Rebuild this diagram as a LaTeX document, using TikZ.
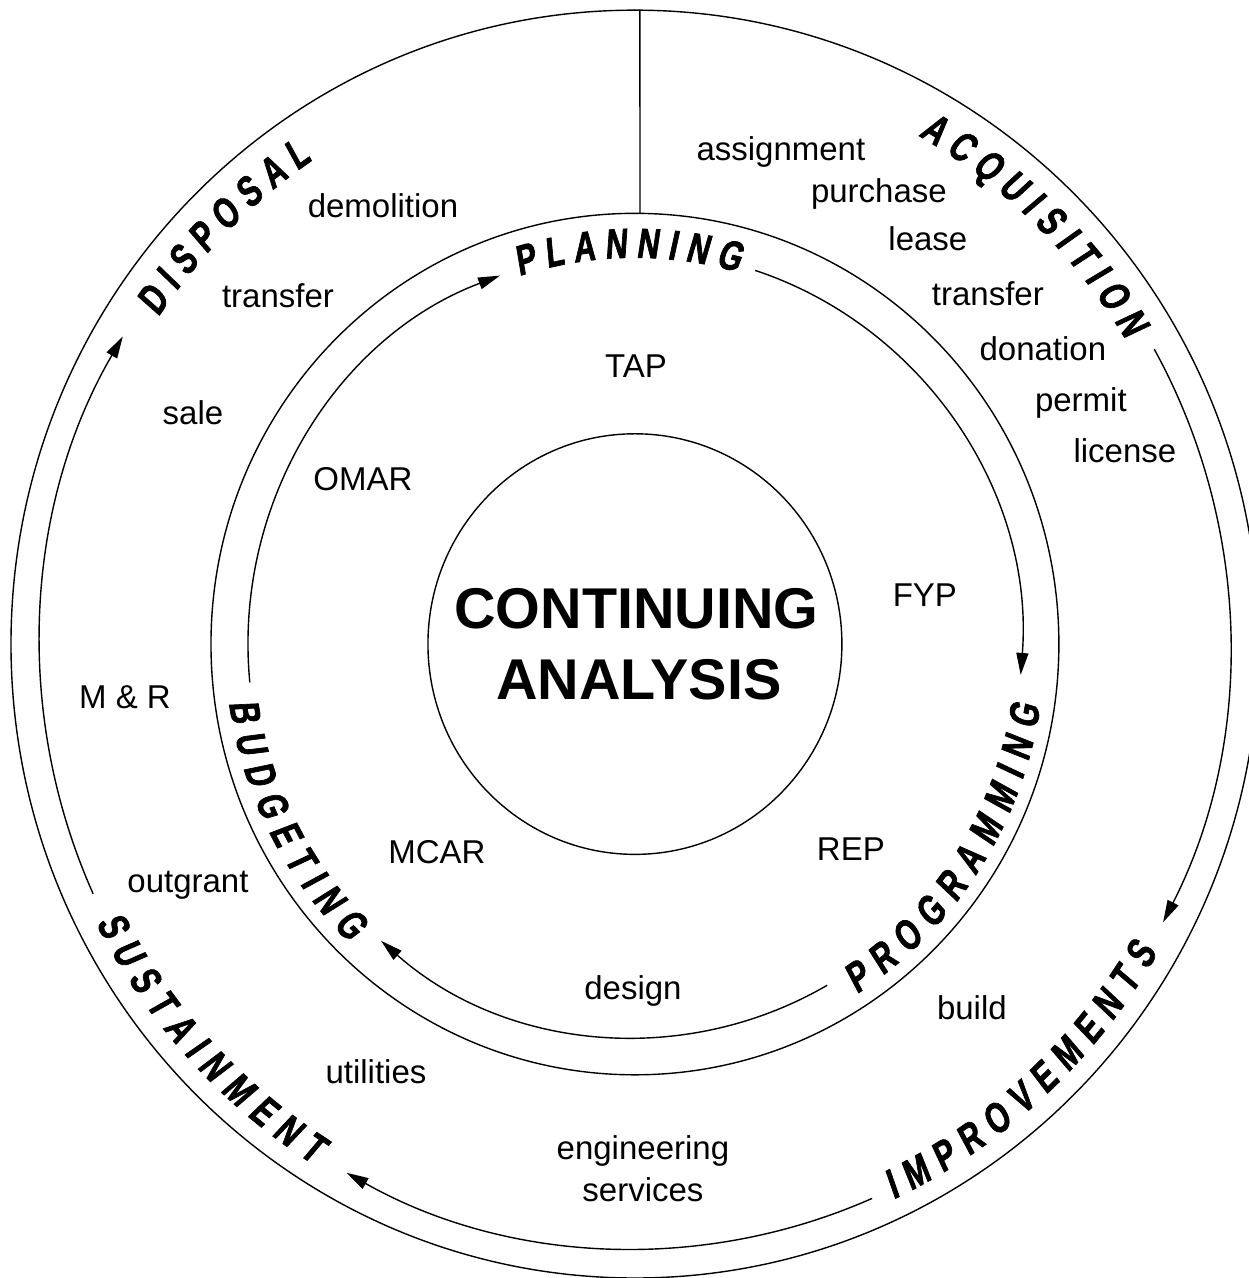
\documentclass[tikz,border=0pt]{standalone}
\usepackage{fontspec}
\setmainfont{Liberation Sans}
\newfontfamily\ringfam{Liberation Sans}[FakeStretch=0.72,FakeSlant=0.12,FakeBold=1.6,WordSpace=1.22]
\newcommand\ringfont{\ringfam\bfseries\fontsize{42}{42}\selectfont}
\usetikzlibrary{
    arrows.meta,
    decorations.text
}

\begin{document}
\begin{tikzpicture}[
    x=1pt, y=1.016pt,
    line width=1.4pt,
    every node/.style={inner sep=0pt},
    item/.style={font=\fontsize{33}{33}\selectfont, anchor=base},
    core/.style={font=\bfseries\fontsize{57.5}{57.5}\selectfont, anchor=base},
    flow/.style={-{Triangle[length=22pt,width=12pt]}},
    ringlabel/.style={decorate, decoration={text along path, text align=center,
        raise=-15pt, text={|\ringfont|#1}}},
  ]
  \useasboundingbox (-635,-624) rectangle (614,634);

  % Rings
  \draw (0,0) circle[radius=624];
  \draw (0,0) circle[radius=424];
  \draw (0,0) circle[radius=207];

  % Divider at the top
  \coordinate (topout) at (89.54:624);
  \coordinate (topmid) at (89.32:424);
  \draw (topout) -- (topmid);

  % Inner cycle
  \draw[flow] (185.6:387) arc[start angle=185.6, end angle=110.4, radius=387];
  \draw[flow] (71.9:387) arc[start angle=71.9, end angle=-4.5, radius=387];
  \draw[flow] (-60.2:387) arc[start angle=-60.2, end angle=-131, radius=387];

  % Outer cycle
  \draw[flow] (29.2:595) arc[start angle=29.2, end angle=-27.4, radius=595];
  \draw[flow] (-66.5:595) arc[start angle=-66.5, end angle=-119, radius=595];
  \draw[flow] (204.4:595) arc[start angle=204.4, end angle=149.4, radius=595];

  % Inner ring labels
  \path[ringlabel={P L A N N I N G}] (121:395) arc[start angle=121, end angle=61, radius=395];
  \path[ringlabel={P R O G R A M M I N G}] (-68:395) arc[start angle=-68, end angle=2, radius=395];
  \path[ringlabel={B U D G E T I N G}] (180:395) arc[start angle=180, end angle=234, radius=395];

  % Outer ring labels
  \path[ringlabel={A C Q U I S I T I O N}] (71:590) arc[start angle=71, end angle=21, radius=590];
  \path[ringlabel={I M P R O V E M E N T S}] (-75:590) arc[start angle=-75, end angle=-20, radius=590];
  \path[ringlabel={S U S T A I N M E N T}] (195:590) arc[start angle=195, end angle=250, radius=590];
  \path[ringlabel={D I S P O S A L}] (160:590) arc[start angle=160, end angle=110, radius=590];

  % Centre
  \node[core] (cont) at (1.5,15.7) {CONTINUING};
  \node[core] (anal) at (4,-55) {ANALYSIS};

  % Acquisition items
  \foreach \px/\py/\lab [count=\i] in {146/476.4/assignment, 244/435/purchase,
      293/387.8/lease, 353/333.7/transfer, 408/279.5/donation,
      446/229.3/permit, 490/179.1/license}
    \node[item] (acq\i) at (\px,\py) {\lab};

  % Disposal items
  \foreach \px/\py/\lab [count=\i] in {-252/420.3/demolition, -357/331.7/transfer,
      -442/216.5/sale}
    \node[item] (dis\i) at (\px,\py) {\lab};

  % Sustainment and improvement items
  \foreach \px/\py/\lab [count=\i] in {-510/-63/M \& R, -447/-245/outgrant,
      -259/-433/utilities, 337/-370/build, 8/-507/engineering, 8/-549/services}
    \node[item] (sus\i) at (\px,\py) {\lab};

  % Inner items
  \foreach \px/\py/\lab [count=\i] in {1/262.8/TAP, -272/151.6/OMAR, 290/37.4/FYP,
      216/-212.6/REP, -198/-215.6/MCAR, -2/-349.4/design}
    \node[item] (inn\i) at (\px,\py) {\lab};
\end{tikzpicture}
\end{document}
